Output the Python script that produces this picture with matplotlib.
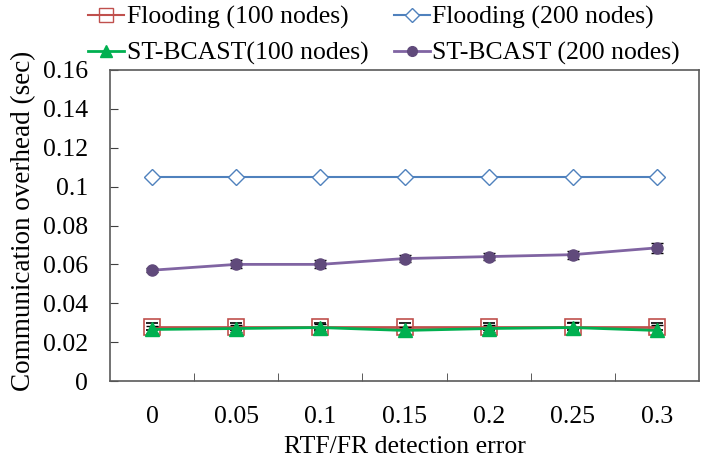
import matplotlib
matplotlib.use("Agg")
import matplotlib.pyplot as plt
from matplotlib.lines import Line2D
import numpy as np

categories = ["0", "0.05", "0.1", "0.15", "0.2", "0.25", "0.3"]
flood100 = [0.028, 0.028, 0.028, 0.028, 0.028, 0.028, 0.028]
flood200 = [0.105, 0.105, 0.105, 0.105, 0.105, 0.105, 0.105]
st100 = [0.0265, 0.027, 0.0275, 0.026, 0.027, 0.0275, 0.026]
st100_err = [0.002, 0.002, 0.002, 0.002, 0.002, 0.003, 0.003]
st200 = [0.057, 0.060, 0.060, 0.063, 0.064, 0.065, 0.0685]
st200_err = [0.001, 0.002, 0.002, 0.002, 0.002, 0.002, 0.0025]
flood100_err = [0.002, 0.002, 0.002, 0.002, 0.002, 0.002, 0.002]
labels = ['Flooding (100 nodes)', 'ST-BCAST(100 nodes)', 'Flooding (200 nodes)', 'ST-BCAST (200 nodes)']

plt.rcParams['font.family'] = ['Liberation Serif', 'DejaVu Serif']
fig = plt.figure(figsize=(7.07, 4.62), dpi=100)
ax = fig.add_axes([0.1556, 0.1753, 0.8331, 0.6732])

x = np.arange(len(categories))
fs = 18.5
c_red, c_blue, c_green, c_purp = '#C0504D', '#4F81BD', '#00B050', '#8064A2'
ax.errorbar(x, flood100, yerr=flood100_err, color=c_red, lw=2, marker='s', ms=11,
            mfc='none', mec=c_red, mew=1.2, ecolor='black', elinewidth=1, capsize=4, zorder=3)
ax.plot(x, flood200, color=c_blue, lw=1.5, marker='D', ms=8, mfc='white', mec=c_blue,
        mew=1.0, zorder=3)
ax.errorbar(x, st100, yerr=st100_err, color=c_green, lw=2, marker='^', ms=10,
            mfc=c_green, mec=c_green, ecolor='black', elinewidth=1, capsize=4, zorder=4)
ax.errorbar(x, st200, yerr=st200_err, color=c_purp, lw=2, marker='o', ms=8,
            mfc='#604A7B', mec='#604A7B', ecolor='black', elinewidth=1, capsize=4, zorder=4)

ax.set_xlim(-0.5, len(categories) - 0.5)
ax.set_ylim(0, 0.16)
ax.set_yticks(np.arange(0, 0.161, 0.02))
ax.set_yticklabels(['0', '0.02', '0.04', '0.06', '0.08', '0.1', '0.12', '0.14', '0.16'], fontsize=fs)
ax.set_xticks(x)
ax.set_xticklabels(categories, fontsize=fs)
ax.set_xticks(np.arange(0.5, len(categories) - 1, 1), minor=True)
ax.tick_params(axis='x', which='major', length=0, pad=18)
ax.tick_params(axis='x', which='minor', direction='in', length=6, color='#404040')
ax.tick_params(axis='y', direction='in', length=6, color='#404040', pad=16)
for s in ax.spines.values():
    s.set_color('#5a5a5a')
    s.set_linewidth(1.2)

ax.set_xlabel('RTF/FR detection error', fontsize=fs, labelpad=6)
ax.set_ylabel('Communication overhead (sec)', fontsize=19.5)
ax.yaxis.set_label_coords(-0.126, 0.515)

handles = [
    Line2D([], [], color=c_red, lw=1.5, marker='s', ms=10, mfc='none', mec=c_red, mew=1.0),
    Line2D([], [], color=c_green, lw=2, marker='^', ms=8, mfc=c_green, mec=c_green),
    Line2D([], [], color=c_blue, lw=1.5, marker='D', ms=7, mfc='white', mec=c_blue, mew=1.0),
    Line2D([], [], color=c_purp, lw=2, marker='o', ms=7, mfc='#604A7B', mec='#604A7B'),
]
leg = fig.legend(handles, labels, ncol=2,
                 loc='upper left', bbox_to_anchor=(0.110, 1.01), frameon=False, fontsize=fs,
                 handlelength=1.4, handletextpad=0.1, columnspacing=1.0, labelspacing=0.5,
                 borderaxespad=0)

fig.savefig('out.png', dpi=100)
